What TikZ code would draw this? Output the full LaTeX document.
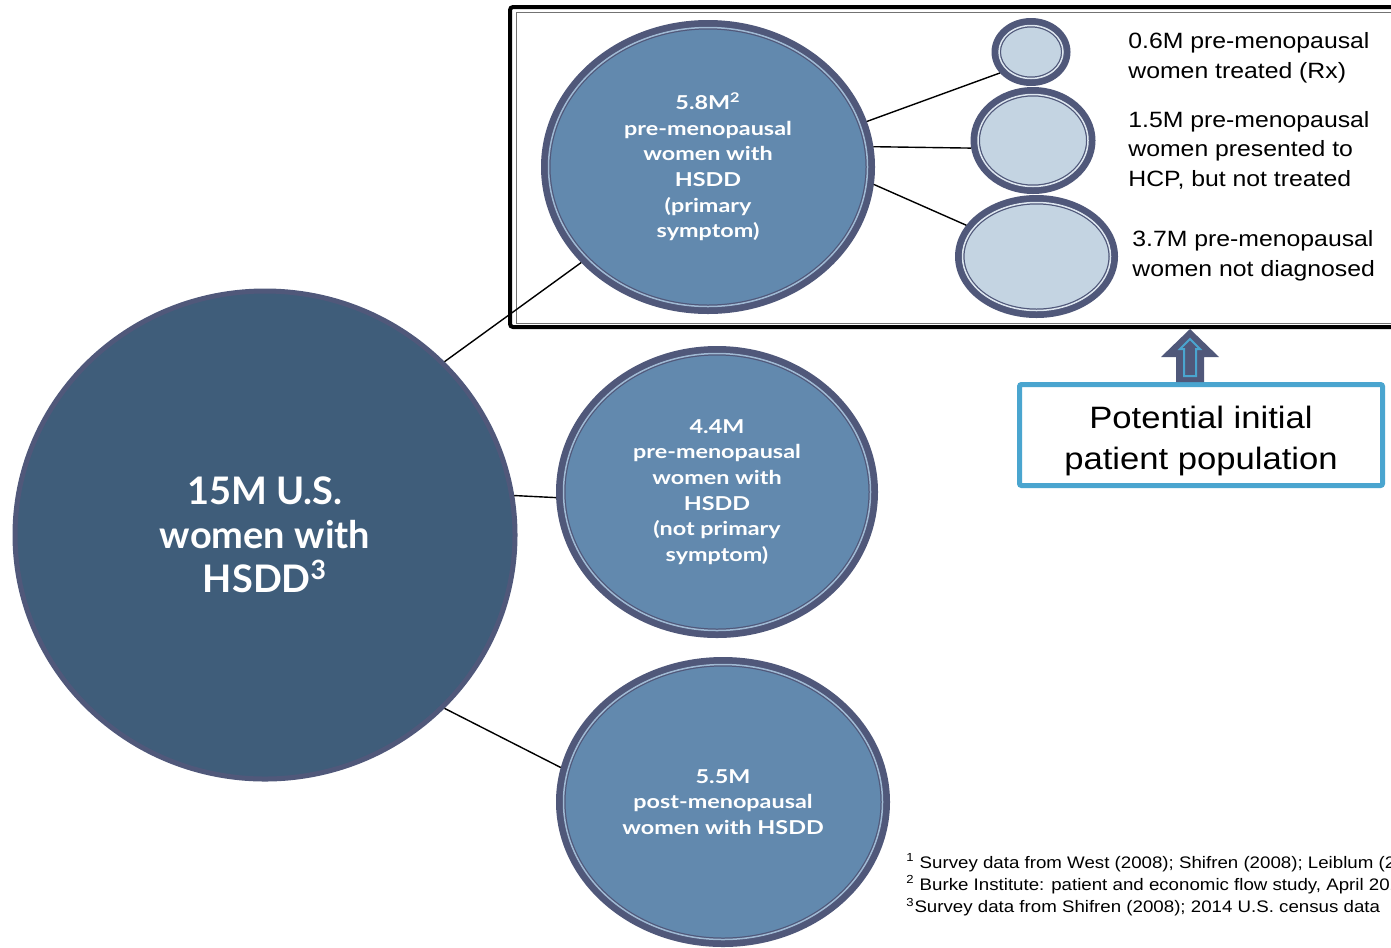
\documentclass[tikz,border=0pt]{standalone}
\usepackage{fontspec}
\usepackage{xcolor}
\usetikzlibrary{calc, shapes.geometric}
\newfontfamily\bigfont{Lato}
\newfontfamily\bubfont{Lato}[FakeStretch=1.22]
\newfontfamily\labelfont{Liberation Sans}[FakeStretch=1.12]
\definecolor{bigfill}{RGB}{63,93,122}
\definecolor{ringdark}{RGB}{80,88,122}
\definecolor{midfill}{RGB}{98,137,174}
\definecolor{lightfill}{RGB}{196,212,226}
\definecolor{ringlight}{RGB}{160,186,212}
\definecolor{ringwhite}{RGB}{222,231,240}
\definecolor{popblue}{RGB}{74,165,207}
\def\pxu{0.02cm}

\begin{document}
\begin{tikzpicture}[x=\pxu, y=-\pxu,
  ring/.style={path picture={
    \draw[ringdark, line width=4*\pxu] let \p1=(path picture bounding box.north east), \p2=(path picture bounding box.center)
      in (\p2) ellipse [x radius=\x1-\x2-4.5*\pxu, y radius=\y1-\y2-4.5*\pxu];
    \draw[#1, line width=1.5*\pxu] let \p1=(path picture bounding box.north east), \p2=(path picture bounding box.center)
      in (\p2) ellipse [x radius=\x1-\x2-4.5*\pxu, y radius=\y1-\y2-4.5*\pxu];}},
  blob/.style={ellipse, draw=ringdark, inner sep=0pt, align=center, text=white},
  bubble/.style={blob, line width=6*\pxu, fill=midfill, ring=ringlight, font=\bubfont\bfseries\fontsize{10.9}{14.6}\selectfont},
  dot/.style={blob, line width=6*\pxu, fill=lightfill, ring=ringwhite},
  bigbubble/.style={blob, line width=5*\pxu, fill=bigfill, font=\bigfont\bfseries\fontsize{21.6}{25}\selectfont},
  side/.style={anchor=west, inner sep=0pt, align=left, font=\labelfont\fontsize{12.6}{16.8}\selectfont},
  link/.style={draw=black, line width=1.4*\pxu}
]
\path[use as bounding box, clip] (0,0) rectangle (1391,947);
\fill[white] (0,0) rectangle (1391,947);

% frame round the primary-symptom group
\draw[line width=4*\pxu, rounded corners=3*\pxu] (510,7) rectangle (1420,327);
\draw[black!55, line width=1.2*\pxu] (516.5,12.5) rectangle (1420,323.5);

% population bubbles
\node[bigbubble, minimum width=500*\pxu, minimum height=488*\pxu] (all) at (265,535) {15M U.S.\\women with\\HSDD\textsuperscript{3}};
\node[bubble, minimum width=328*\pxu, minimum height=288*\pxu] (prim) at (708,167) {5.8M\textsuperscript{2}\\pre-menopausal\\women with\\HSDD\\(primary\\symptom)};
\node[bubble, minimum width=316*\pxu, minimum height=286*\pxu] (nonprim) at (717,492) {4.4M\\pre-menopausal\\women with\\HSDD\\(not primary\\symptom)};
\node[bubble, minimum width=328*\pxu, minimum height=284*\pxu] (post) at (723,802) {5.5M\\post-menopausal\\women with HSDD};

% split of the primary-symptom group
\node[dot, minimum width=73*\pxu, minimum height=62*\pxu] (rx) at (1031,52) {};
\node[dot, minimum width=119*\pxu, minimum height=101*\pxu] (hcp) at (1033,140.5) {};
\node[dot, minimum width=157*\pxu, minimum height=117*\pxu] (undx) at (1036.5,256.5) {};

\node[side] (rxtext) at (1128,58) {0.6M pre-menopausal\\women treated (Rx)};
\node[side] (hcptext) at (1128,150) {1.5M pre-menopausal\\women presented to\\HCP, but not treated};
\node[side] (undxtext) at (1132,256) {3.7M pre-menopausal\\women not diagnosed};

% connectors
\draw[link] (all.44) -- (prim.217);
\draw[link] (all.9) -- (nonprim.182);
\draw[link] (all.-44) -- (post.168);
\draw[link] (prim.16) -- (rx.214);
\draw[link] (prim.7) -- (hcp.187);
\draw[link] (prim.-6) -- (undx.156);

% initial patient population
\node[draw=popblue, line width=5*\pxu, rounded corners=2*\pxu, minimum width=363*\pxu, minimum height=101*\pxu] (pop) at (1201,435) {};
\node[align=center, inner sep=0pt, font=\labelfont\fontsize{17.6}{23.3}\selectfont] (poptext) at ([yshift=-3.4pt]pop.center) {Potential initial\\patient population};
\coordinate (abase) at ([xshift=-11*\pxu]pop.north);
\fill[ringdark] ($(abase)+(-14,0)$) -- ($(abase)+(-14,-25)$) -- ($(abase)+(-29,-25)$) -- ($(abase)+(0,-53)$)
  -- ($(abase)+(29,-25)$) -- ($(abase)+(14,-25)$) -- ($(abase)+(14,0)$) -- cycle;
\draw[popblue, line width=2*\pxu] ($(abase)+(-6,-6)$) -- ($(abase)+(-6,-33)$) -- ($(abase)+(-10,-33)$) -- ($(abase)+(0,-43)$)
  -- ($(abase)+(10,-33)$) -- ($(abase)+(6,-33)$) -- ($(abase)+(6,-6)$) -- cycle;

% footnotes
\node[anchor=west, inner sep=0pt, align=left, font=\labelfont\fontsize{9.5}{12.7}\selectfont] (notes) at (906,885)
  {\textsuperscript{1} Survey data from West (2008); Shifren (2008); Leiblum (2\\\textsuperscript{2} Burke Institute: patient and economic flow study, April 201\\\textsuperscript{3}Survey data from Shifren (2008); 2014 U.S. census data};
\end{tikzpicture}
\end{document}
